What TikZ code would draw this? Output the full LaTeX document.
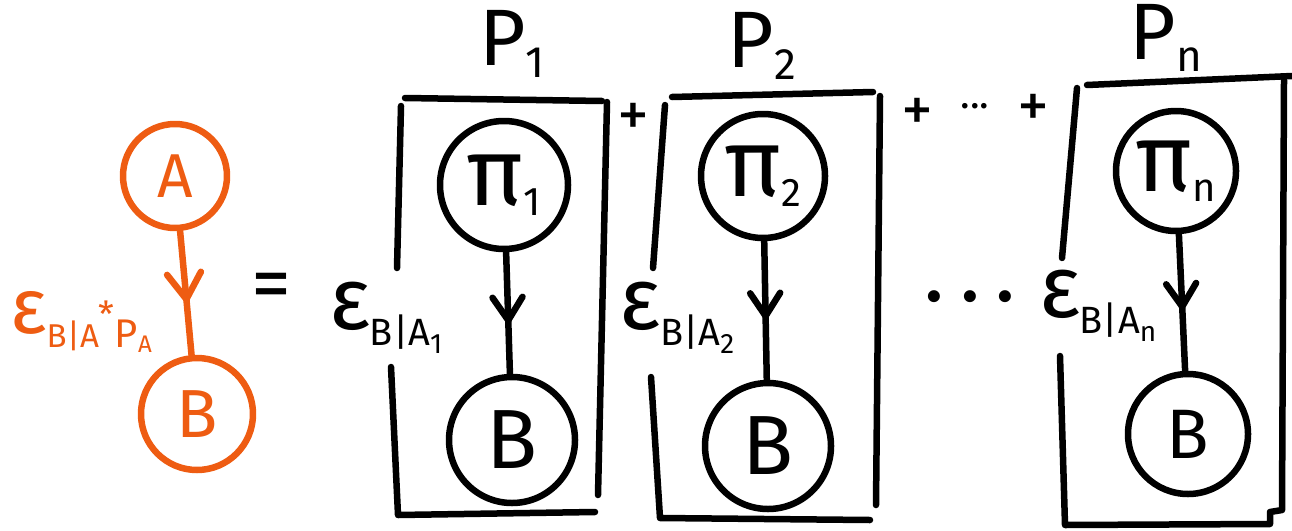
\documentclass[tikz,border=0pt]{standalone}
\usepackage{fontspec}
\setmainfont{Fira Sans}
\usetikzlibrary{decorations.markings}
\definecolor{sketchorange}{RGB}{238,92,18}

% subscripted epsilon label: \epslab{index}
\newcommand{\epslab}[1]{%
  {\fontsize{88}{88}\selectfont ε}\kern-1pt
  \raisebox{-16pt}{\fontsize{38}{38}\selectfont B|A\raisebox{-8pt}{\fontsize{28}{28}\selectfont #1}}}
\newcommand{\plabel}[1]{%
  {\fontsize{80}{80}\selectfont P}\raisebox{-12pt}{\fontsize{44}{44}\selectfont #1}}
\newcommand{\pilabel}[1]{%
  {\fontsize{96}{96}\selectfont π}\raisebox{-10pt}{\fontsize{40}{40}\selectfont #1}}

\tikzset{
  ink/.style={line width=6.5pt, line cap=round, line join=round},
  var/.style={circle, draw, ink, inner sep=0pt},
  chev/.style={ink, postaction={decorate}, decoration={markings,
      mark=at position #1 with {\draw[ink] (-23pt,15pt) -- (0pt,0pt) -- (-23pt,-15pt);}}},
  bigchev/.style={ink, postaction={decorate}, decoration={markings,
      mark=at position #1 with {\draw[ink] (-26pt,17pt) -- (0pt,0pt) -- (-26pt,-17pt);}}},
  plate/.style={ink},
  txt/.style={inner sep=0pt},
}

\begin{document}
\begin{tikzpicture}[x=1pt, y=-1pt]
\useasboundingbox (0,0) rectangle (1292,530);

% ---- two-node model on the left (orange) ----
\begin{scope}[color=sketchorange]
  \node[var, minimum size=104pt, font=\fontsize{62}{62}\selectfont] (A) at (175,176) {A};
  \node[var, minimum size=112pt, font=\fontsize{68}{68}\selectfont] (B0) at (197,414) {B};
  \draw[bigchev=0.55] (A) -- (B0);
  \node[txt, anchor=west] (lab0) at (10,322) {%
    {\fontsize{78}{78}\selectfont ε}%
    \raisebox{-14pt}{\fontsize{33}{33}\selectfont B|A}%
    \raisebox{6pt}{\fontsize{36}{36}\selectfont *}%
    \raisebox{-14pt}{\fontsize{40}{40}\selectfont P\raisebox{-5pt}{\fontsize{24}{24}\selectfont A}}};
\end{scope}

\node[txt, font=\fontsize{80}{80}\selectfont] (eq) at (271,292) {=};

% ---- component 1 ----
\draw[plate] (405,98) -- (602,101);
\draw[plate] (401,106) -- (397,268);
\draw[plate] (391,367) -- (398,515) -- (595,512);
\draw[plate] (607,102) -- (598,495);
\node[txt] (P1) at (512,44) {\plabel{1}};
\node[var, minimum size=128pt] (pi1) at (504,185) {\pilabel{1}};
\node[var, minimum size=126pt, font=\fontsize{84}{84}\selectfont] (B1) at (512,440) {B};
\draw[chev=0.56] (pi1) -- (B1);
\node[txt] (e1) at (386,318) {\epslab{1}};

\node[txt, font=\fontsize{64}{64}\selectfont] (plus1) at (633,120) {+};

% ---- component 2 ----
\draw[plate] (672,97) -- (873,92);
\draw[plate] (665,105) -- (653,268);
\draw[plate] (651,377) -- (660,518) -- (870,520);
\draw[plate] (880,96) -- (876,505);
\node[txt] (P2) at (762,46) {\plabel{2}};
\node[var, minimum size=124pt] (pi2) at (763,176) {\pilabel{2}};
\node[var, minimum size=126pt, font=\fontsize{84}{84}\selectfont] (B2) at (768,446) {B};
\draw[chev=0.54] (pi2) -- (B2);
\node[txt] (e2) at (677,318) {\epslab{2}};

\node[txt, font=\fontsize{64}{64}\selectfont] (plus2) at (917,115) {+};
\node[txt, font=\fontsize{40}{40}\selectfont] (cdots) at (975,106) {...};
\node[txt, font=\fontsize{64}{64}\selectfont] (plus3) at (1033,111) {+};
\node[txt, font=\fontsize{66}{66}\selectfont\bfseries] (dots) at (970,297) {.\kern20pt.\kern20pt.};

% ---- component n ----
\draw[plate] (1087,85) -- (1292,76);
\draw[plate] (1077,88) -- (1062,258);
\draw[plate] (1060,356) -- (1065,525) -- (1270,524) -- (1270,512) -- (1282,510) -- (1284,80);
\node[txt] (Pn) at (1166,38) {\plabel{n}};
\node[var, minimum size=120pt] (pin) at (1176,171) {\pilabel{n}};
\node[var, minimum size=120pt, font=\fontsize{70}{70}\selectfont] (Bn) at (1188,434) {B};
\draw[chev=0.53] (pin) -- (Bn);
\node[txt] (en) at (1098,306) {\epslab{n}};
\end{tikzpicture}
\end{document}
